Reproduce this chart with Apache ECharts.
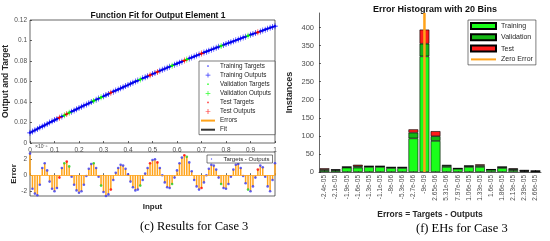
<!DOCTYPE html>
<html>
<head>
<meta charset="utf-8">
<script src="https://cdn.jsdelivr.net/npm/echarts@6/dist/echarts.min.js"></script>
<style>
html,body{margin:0;padding:0;background:#fff;}
#main{width:550px;height:241px;}
</style>
</head>
<body>
<div id="main"></div>
<script>
// targets of the function fit, one per input step of 0.01
var targets = [
  0.0100,0.0112,0.0125,0.0137,0.0150,0.0162,0.0174,0.0186,0.0199,0.0211,
  0.0223,0.0235,0.0247,0.0259,0.0271,0.0283,0.0295,0.0306,0.0318,0.0330,
  0.0342,0.0353,0.0365,0.0376,0.0388,0.0399,0.0411,0.0422,0.0434,0.0445,
  0.0456,0.0467,0.0478,0.0490,0.0501,0.0512,0.0523,0.0534,0.0545,0.0556,
  0.0566,0.0577,0.0588,0.0599,0.0609,0.0620,0.0631,0.0641,0.0652,0.0662,
  0.0673,0.0683,0.0693,0.0704,0.0714,0.0724,0.0734,0.0744,0.0754,0.0764,
  0.0774,0.0784,0.0794,0.0804,0.0814,0.0824,0.0834,0.0843,0.0853,0.0863,
  0.0872,0.0882,0.0891,0.0901,0.0910,0.0919,0.0929,0.0938,0.0947,0.0956,
  0.0966,0.0975,0.0984,0.0993,0.1002,0.1011,0.1020,0.1029,0.1037,0.1046,
  0.1055,0.1064,0.1072,0.1081,0.1089,0.1098,0.1106,0.1115,0.1123,0.1132,
  0.1140
];
// errors (targets - outputs), in units of 1e-5
var errors = [
  2.7,-1.7,-2.3,-2.5,-1.2,0.9,1.5,0.6,-0.8,-1.7,
  -2.0,-1.6,-0.3,0.9,1.5,1.7,1.1,-0.2,-1.2,-1.9,
  -2.2,-2.0,-1.2,-0.1,0.8,1.4,1.5,0.9,-0.2,-1.3,
  -2.1,-2.6,-2.4,-1.8,-0.6,0.3,0.9,1.3,1.2,0.8,
  0.1,-0.8,-1.5,-1.9,-1.8,-1.3,-0.6,0.2,0.9,1.5,
  1.9,2.0,1.6,0.9,0.0,-0.9,-1.5,-1.6,-1.1,-0.3,
  0.6,1.5,2.2,2.5,2.3,1.6,0.5,-0.6,-1.4,-1.8,
  -1.6,-0.9,0.0,0.8,1.3,1.2,0.7,-0.3,-1.1,-1.6,
  -1.7,-1.1,-0.2,0.7,1.3,1.4,0.9,-0.1,-1.0,-1.8,
  -2.0,-1.4,-0.3,0.7,1.2,1.0,-0.2,-1.4,-2.0,-0.6,
  1.5
];
var validationIdx = [14, 16, 26, 29, 45, 58, 64, 78, 89];
var testIdx = [12, 15, 33, 49, 52, 63, 70, 93];

// error histogram
var binLabels = ['-2.4e-05','-2.1e-05','-1.9e-05','-1.6e-05','-1.3e-05','-1.1e-05','-8e-06','-5.3e-06','-2.7e-06','-9e-09',
                 '2.65e-06','5.31e-06','7.97e-06','1.06e-05','1.33e-05','1.6e-05','1.86e-05','2.13e-05','2.39e-05','2.66e-05'];
var histTraining   = [4,4,12,12,14,14,11,11,93,320,86,14,9,14,14,6,11,5,2,1];
var histValidation = [3,2,2,4,2,2,2,2,16,35,13,4,1,3,4,1,3,3,2,2];
var histTest       = [3,1,0,4,0,0,0,0,9,39,14,1,0,0,3,0,0,2,1,0];
var histTicks = [0,50,100,150,200,250,300,350,400];
var zeroBin = '-9e-09';

var BLUE = '#0000ff', GREEN = '#00ff00', RED = '#ff0000', ORANGE = '#ffa31a';
var AX = '#262626', LB = '#4d4d4d';
var FONT = 'Liberation Sans, Arial, sans-serif';
var plusPath = 'path://M0,4.4h10v1.2h-10zM4.4,0h1.2v10h-1.2z';
var dotIcon = 'path://M0,0M10,10M3.6,5a1.4,1.4 0 1,0 2.8,0a1.4,1.4 0 1,0 -2.8,0z';
var plusIcon = 'path://M0,0M10,10M1,4.4h8v1.2h-8zM4.4,1h1.2v8h-1.2z';
var lineIconS = 'path://M0,0M14,0M14,6M0,2h14v2h-14z';
var lineIconL = 'path://M0,0M25,0M25,6M0,2h25v2h-25z';

function setOf(i) {
  if (validationIdx.indexOf(i) >= 0) return 'v';
  if (testIdx.indexOf(i) >= 0) return 't';
  return 'r';
}

var tg = {r: [], v: [], t: []}, out = {r: [], v: [], t: []};
var fitData = [], stemData = [], diffData = [];
var setColor = {r: '#3a3af2', v: '#22cc22', t: RED};
for (var i = 0; i < targets.length; i++) {
  var x = i / 100;
  var o = targets[i] - errors[i] * 1e-5;
  var s = setOf(i);
  tg[s].push([x, targets[i]]);
  out[s].push([x, o]);
  fitData.push([x, o]);
  stemData.push([x, errors[i]]);
  diffData.push({value: [x, errors[i]], itemStyle: {color: setColor[s]}});
}

var chart = echarts.init(document.getElementById('main'));

function tick() { return {show: true, inside: true, length: 2, lineStyle: {color: AX, width: 0.7}}; }

chart.setOption({
  backgroundColor: '#fff',
  animation: false,
  textStyle: {fontFamily: FONT},
  title: [
    {text: 'Function Fit for Output Element 1', left: 153, top: 6, textAlign: 'center',
     textStyle: {fontSize: 8.5, fontWeight: 'bold', color: '#111', fontFamily: FONT}},
    {text: 'Error Histogram with 20 Bins', left: 430, top: 0, textAlign: 'center',
     textStyle: {fontSize: 9, fontWeight: 'bold', color: '#111', fontFamily: FONT}}
  ],
  grid: [
    {left: 30, top: 20, width: 245, height: 123, show: true, borderColor: AX, borderWidth: 0.7, backgroundColor: '#fff'},
    {left: 30, top: 152, width: 245, height: 44, show: true, borderColor: AX, borderWidth: 0.7, backgroundColor: '#fff'},
    {left: 319, top: 13, width: 222, height: 159}
  ],
  xAxis: [
    {gridIndex: 0, type: 'value', min: 0, max: 1, interval: 0.1,
     axisLine: {show: false}, axisTick: tick(), splitLine: {show: false},
     axisLabel: {fontSize: 6.5, color: LB, margin: 4}},
    {gridIndex: 1, type: 'value', min: 0, max: 1, interval: 0.1,
     axisLine: {show: false}, axisTick: tick(), splitLine: {show: false},
     axisLabel: {show: false},
     name: 'Input', nameLocation: 'middle', nameGap: 7,
     nameTextStyle: {fontSize: 8, fontWeight: 'bold', color: AX}},
    {gridIndex: 2, type: 'category', data: binLabels,
     axisLine: {lineStyle: {color: AX, width: 0.7}},
     axisTick: {show: true, inside: true, length: 2, alignWithLabel: true, lineStyle: {color: AX, width: 0.7}},
     axisLabel: {rotate: 90, interval: 0, fontSize: 6.5, color: LB, margin: 3},
     name: 'Errors = Targets - Outputs', nameLocation: 'middle', nameGap: 38,
     nameTextStyle: {fontSize: 8.5, fontWeight: 'bold', color: AX}}
  ],
  yAxis: [
    {gridIndex: 0, type: 'value', min: 0, max: 0.12, interval: 0.02,
     axisLine: {show: false}, axisTick: tick(), splitLine: {show: false},
     axisLabel: {fontSize: 6.5, color: LB, margin: 3},
     name: 'Output and Target', nameLocation: 'middle', nameGap: 16,
     nameTextStyle: {fontSize: 8.5, fontWeight: 'bold', color: AX}},
    {gridIndex: 1, type: 'value', min: -2.6, max: 2.9,
     axisLine: {show: false},
     axisTick: {show: true, inside: true, length: 2, customValues: [-2, 0, 2], lineStyle: {color: AX, width: 0.7}},
     splitLine: {show: false},
     axisLabel: {fontSize: 6.5, color: LB, margin: 3, customValues: [-2, 0, 2]},
     name: 'Error', nameLocation: 'middle', nameGap: 9,
     nameTextStyle: {fontSize: 8, fontWeight: 'bold', color: AX}},
    {gridIndex: 2, type: 'value', min: 0, max: 440,
     axisLine: {show: true, lineStyle: {color: AX, width: 0.7}},
     axisTick: {show: true, inside: true, length: 2, customValues: histTicks, lineStyle: {color: AX, width: 0.7}},
     splitLine: {show: false},
     axisLabel: {fontSize: 7.5, color: LB, margin: 5, customValues: histTicks},
     name: 'Instances', nameLocation: 'middle', nameGap: 25,
     nameTextStyle: {fontSize: 9, fontWeight: 'bold', color: AX}}
  ],
  legend: [
    {orient: 'vertical', left: 199, top: 61, itemWidth: 14, itemHeight: 6, itemGap: 3.1,
     backgroundColor: '#fff', borderColor: AX, borderWidth: 0.6, padding: [2, 4, 2, 2],
     textStyle: {fontSize: 6.3, color: AX, fontFamily: FONT},
     data: [
       {name: 'Training Targets', icon: dotIcon},
       {name: 'Training Outputs', icon: plusIcon},
       {name: 'Validation Targets', icon: dotIcon},
       {name: 'Validation Outputs', icon: plusIcon},
       {name: 'Test Targets', icon: dotIcon},
       {name: 'Test Outputs', icon: plusIcon},
       {name: 'Errors', icon: lineIconS, itemStyle: {color: ORANGE}},
       {name: 'Fit', icon: lineIconS, itemStyle: {color: '#333'}}
     ]},
    {orient: 'vertical', left: 207, top: 155, itemWidth: 14, itemHeight: 5, itemGap: 2,
     backgroundColor: '#fff', borderColor: AX, borderWidth: 0.6, padding: [1, 3, 1, 2],
     textStyle: {fontSize: 6, color: AX, fontFamily: FONT},
     data: [{name: 'Targets - Outputs', icon: dotIcon}]},
    {orient: 'vertical', left: 468, top: 20, itemWidth: 25, itemHeight: 6, itemGap: 3.3,
     backgroundColor: '#fff', borderColor: AX, borderWidth: 0.6, padding: [2, 3, 2, 2],
     textStyle: {fontSize: 7, color: AX, fontFamily: FONT},
     data: [
       {name: 'Training', icon: 'rect'},
       {name: 'Validation', icon: 'rect'},
       {name: 'Test', icon: 'rect'},
       {name: 'Zero Error', icon: lineIconL, itemStyle: {color: ORANGE, borderWidth: 0}}
     ]}
  ],
  graphic: [
    {type: 'text', left: 35, top: 144, style: {text: '×10⁻⁵', fontSize: 5, fill: LB, fontFamily: FONT}},
    {type: 'text', left: 140, top: 220, style: {text: '(c) Results for Case 3', fontSize: 12.5, fill: '#000', fontFamily: 'Liberation Serif, Times New Roman, serif', textAlign: 'center'}},
    {type: 'text', left: 416, top: 222, style: {text: '(f) EHs for Case 3', fontSize: 12.5, fill: '#000', fontFamily: 'Liberation Serif, Times New Roman, serif', textAlign: 'center'}}
  ],
  series: [
    {name: 'Fit', type: 'line', xAxisIndex: 0, yAxisIndex: 0, data: fitData, symbol: 'none',
     color: '#333', lineStyle: {width: 1.2, color: '#000'}, z: 1},
    {name: 'Errors', type: 'bar', xAxisIndex: 1, yAxisIndex: 1, data: stemData, barWidth: 1.5,
     color: ORANGE, itemStyle: {color: ORANGE}, z: 2,
     markLine: {silent: true, symbol: 'none', label: {show: false},
                lineStyle: {color: ORANGE, width: 0.8, type: 'solid'}, data: [{yAxis: 0}]}},
    {name: 'Targets - Outputs', type: 'scatter', xAxisIndex: 1, yAxisIndex: 1, data: diffData,
     symbol: 'circle', symbolSize: 2.6, color: '#3a3af2', z: 3},
    {name: 'Training Targets', type: 'scatter', xAxisIndex: 0, yAxisIndex: 0, data: tg.r, symbol: 'circle', symbolSize: 2.6, color: BLUE, z: 3},
    {name: 'Training Outputs', type: 'scatter', xAxisIndex: 0, yAxisIndex: 0, data: out.r, symbol: plusPath, symbolSize: 6, color: BLUE, z: 4},
    {name: 'Validation Targets', type: 'scatter', xAxisIndex: 0, yAxisIndex: 0, data: tg.v, symbol: 'circle', symbolSize: 2.6, color: GREEN, z: 5},
    {name: 'Validation Outputs', type: 'scatter', xAxisIndex: 0, yAxisIndex: 0, data: out.v, symbol: plusPath, symbolSize: 6, color: GREEN, z: 6},
    {name: 'Test Targets', type: 'scatter', xAxisIndex: 0, yAxisIndex: 0, data: tg.t, symbol: 'circle', symbolSize: 2.6, color: RED, z: 5},
    {name: 'Test Outputs', type: 'scatter', xAxisIndex: 0, yAxisIndex: 0, data: out.t, symbol: plusPath, symbolSize: 6, color: RED, z: 6},
    {name: 'Training', type: 'bar', xAxisIndex: 2, yAxisIndex: 2, stack: 'h', data: histTraining, barCategoryGap: '12%',
     color: '#1aff1a', itemStyle: {color: '#1aff1a', borderColor: '#000', borderWidth: 0.6}},
    {name: 'Validation', type: 'bar', xAxisIndex: 2, yAxisIndex: 2, stack: 'h', data: histValidation,
     color: '#14b814', itemStyle: {color: '#14b814', borderColor: '#000', borderWidth: 0.6}},
    {name: 'Test', type: 'bar', xAxisIndex: 2, yAxisIndex: 2, stack: 'h', data: histTest,
     color: '#ff1a1a', itemStyle: {color: '#ff1a1a', borderColor: '#000', borderWidth: 0.6}},
    {name: 'Zero Error', type: 'line', xAxisIndex: 2, yAxisIndex: 2, data: [[zeroBin, 0], [zeroBin, 440]],
     symbol: 'none', color: ORANGE, lineStyle: {color: ORANGE, width: 2.5}, z: 10}
  ]
});
</script>
</body>
</html>
